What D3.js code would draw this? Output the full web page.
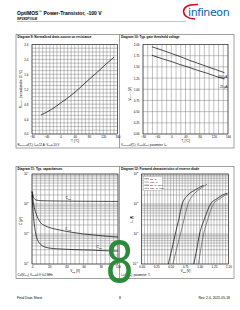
<!DOCTYPE html>
<html>
<head>
<meta charset="utf-8">
<script src="https://cdn.jsdelivr.net/npm/d3@7"></script>
<style>
  body { margin: 0; background: #fff; }
  svg { display: block; font-family: "Liberation Sans", Arial, sans-serif; }
</style>
</head>
<body>
<svg width="240" height="310"></svg>
<script>
// ---- data ----
var rdsTemp = [-55, -25, 0, 25, 50, 75, 100, 125, 150];
var rdsNorm = [0.51, 0.66, 0.83, 1.0, 1.2, 1.42, 1.63, 1.85, 2.06];

var vthTemp = [-55, -25, 0, 25, 50, 75, 100, 125, 150];
var vthHigh = [1.95, 1.87, 1.80, 1.73, 1.65, 1.58, 1.51, 1.44, 1.37];
var vthLow = [1.76, 1.68, 1.62, 1.55, 1.49, 1.42, 1.36, 1.29, 1.23];
var vthNames = ["250 µA", "25 µA"];

var capV = [0, 1, 2, 5, 10, 15, 20, 30, 40, 50, 60, 70, 80, 90, 100];
var ciss = [2700, 2000, 1600, 1350, 1290, 1275, 1265, 1255, 1248, 1242, 1236, 1231, 1227, 1223, 1220];
var coss = [2500, 1500, 950, 460, 240, 190, 165, 140, 122, 110, 100, 94, 88, 83, 79];
var crss = [2000, 700, 320, 85, 45, 37, 34, 32, 31, 30, 29.5, 29, 28, 27.5, 27];
var capNames = ["C_{iss}", "C_{oss}", "C_{rss}"];

var diodeI = [0.1, 0.3, 1, 3, 10, 20, 30, 42];
var diodeA = [0.46, 0.52, 0.58, 0.64, 0.70, 0.80, 0.93, 1.07];
var diodeI2 = [0.1, 0.3, 1, 3, 10, 20, 30, 46];
var diodeB = [0.54, 0.60, 0.67, 0.73, 0.80, 0.89, 0.99, 1.13];
var diodeI3 = [0.1, 0.3, 1, 3, 10, 15, 20, 23];
var diodeC = [0.90, 0.95, 1.00, 1.08, 1.19, 1.30, 1.40, 1.48];
var diodeI4 = [0.1, 0.3, 1, 3, 10, 15, 20, 22];
var diodeD = [0.98, 1.02, 1.07, 1.14, 1.24, 1.35, 1.45, 1.50];
var diodeNames = ["25 °C", "150 °C", "25 °C, 98%", "150 °C, 98%"];

var svg = d3.select("svg");
svg.append("rect").attr("width", 240).attr("height", 310).attr("fill", "#fff");

// text with _{sub} and ^{sup} parts
function rich(sel, str, fs) {
  var parts = str.split(/([_^]\{[^}]*\})/);
  var off = 0;
  parts.forEach(function (p) {
    if (!p) return;
    var t = sel.append("tspan"), d = 0;
    if (p.indexOf("_{") === 0) { d = 0.3; p = p.slice(2, -1); t.attr("font-size", fs * 0.75); }
    else if (p.indexOf("^{") === 0) { d = -0.4; p = p.slice(2, -1); t.attr("font-size", fs * 0.75); }
    t.attr("dy", ((d - off) * fs).toFixed(2)).text(p);
    off = d;
  });
}

function label(x, y, str, fs, opts) {
  opts = opts || {};
  var t = svg.append("text")
      .attr("x", x).attr("y", y)
      .attr("font-size", fs)
      .attr("fill", opts.fill || "#000")
      .attr("text-anchor", opts.anchor || "start")
      .attr("font-weight", opts.bold ? "bold" : null);
  if (opts.rotate) t.attr("transform", "rotate(-90," + x + "," + y + ")");
  rich(t, str, fs);
  return t;
}

function logLabels(ax) {
  ax.selectAll(".tick text").each(function (d) {
    var e = Math.round(Math.log10(d));
    d3.select(this).text(null);
    rich(d3.select(this), "10^{" + e + "}", 3);
  });
}

// one chart: grid, frame, axes and curves
function chart(o) {
  var x = o.x, y = o.y;
  var xl = x.range()[0], xr = x.range()[1], yb = y.range()[0], yt = y.range()[1];
  var g = svg.append("g");

  g.append("g").selectAll("line").data(o.xGrid).join("line")
      .attr("x1", function (d) { return x(d); }).attr("x2", function (d) { return x(d); })
      .attr("y1", yt).attr("y2", yb)
      .attr("stroke", "#777").attr("stroke-width", 0.45);
  g.append("g").selectAll("line").data(o.yGrid).join("line")
      .attr("y1", function (d) { return y(d); }).attr("y2", function (d) { return y(d); })
      .attr("x1", xl).attr("x2", xr)
      .attr("stroke", "#777").attr("stroke-width", 0.45);

  g.append("rect").attr("x", xl).attr("y", yt)
      .attr("width", xr - xl).attr("height", yb - yt)
      .attr("fill", "none").attr("stroke", "#000").attr("stroke-width", 0.5);

  var ax = g.append("g").attr("transform", "translate(0," + yb + ")")
      .call(d3.axisBottom(x).tickValues(o.xTicks).tickSize(0).tickPadding(1.5).tickFormat(o.xFormat));
  var ay = g.append("g").attr("transform", "translate(" + xl + ",0)")
      .call(d3.axisLeft(y).tickValues(o.yTicks).tickSize(0).tickPadding(3.5)
        .tickFormat(o.yFormat || function (d) { return "10"; }));
  [ax, ay].forEach(function (a) {
    a.attr("font-size", 3).attr("font-family", null);
    a.select(".domain").remove();
  });
  if (o.logY) logLabels(ay);

  var line = d3.line()
      .x(function (d) { return x(d[0]); })
      .y(function (d) { return y(d[1]); })
      .curve(d3.curveMonotoneX);
  o.series.forEach(function (s) {
    g.append("path").attr("d", line(s.pts))
        .attr("fill", "none").attr("stroke", s.color || "#000").attr("stroke-width", 0.7);
  });
  return g;
}

function zip(a, b) { return a.map(function (v, i) { return [v, b[i]]; }); }

// ---- header ----
label(17, 15, "OptiMOS^{™} Power-Transistor, -100 V", 5, { bold: true });
label(17, 20, "ISP28DP10LM", 3, { bold: true });
svg.append("line").attr("x1", 17).attr("x2", 186).attr("y1", 21.5).attr("y2", 21.5)
    .attr("stroke", "#666").attr("stroke-width", 0.4);
svg.append("path").attr("d", "M198,4.5 Q184,4 183.5,11.5 Q184,18.5 195,19")
    .attr("fill", "none").attr("stroke", "#e2001a").attr("stroke-width", 1.6);
svg.append("text").attr("x", 188).attr("y", 15.5).attr("font-size", 11)
    .attr("font-family", "'DejaVu Sans', sans-serif").attr("fill", "#0a60ac")
    .attr("letter-spacing", -0.4).text("infineon");

// ---- frames ----
[[34.5, 148], [166.5, 278.5]].forEach(function (r) {
  svg.append("rect").attr("x", 16).attr("y", r[0]).attr("width", 218).attr("height", r[1] - r[0])
      .attr("fill", "none").attr("stroke", "#444").attr("stroke-width", 0.5);
  svg.append("line").attr("x1", 119.5).attr("x2", 119.5).attr("y1", r[0]).attr("y2", r[1])
      .attr("stroke", "#444").attr("stroke-width", 0.5);
});

label(17.5, 38.3, "Diagram 9: Normalized drain-source on resistance", 3.1, { bold: true });
label(121, 38.3, "Diagram 10: Typ. gate threshold voltage", 3.1, { bold: true });
label(17.5, 170.3, "Diagram 11: Typ. capacitances", 3.1, { bold: true });
label(121, 170.3, "Diagram 12: Forward characteristics of reverse diode", 3.1, { bold: true });

// ---- diagram 9 ----
var x9 = d3.scaleLinear().domain([-80, 160]).range([32, 117.5]);
var y9 = d3.scaleLinear().domain([0, 2.4]).range([134, 44.5]);
chart({
  x: x9, y: y9,
  xGrid: d3.range(-80, 161, 10), yGrid: d3.range(0, 2.41, 0.1),
  xTicks: d3.range(-80, 161, 40), yTicks: d3.range(0, 2.41, 0.4),
  xFormat: d3.format("d"), yFormat: d3.format(".1f"),
  series: [{ pts: zip(rdsTemp, rdsNorm) }]
});
label(75, 141.6, "T_{j} [°C]", 3, { anchor: "middle" });
label(21.5, 89, "R_{DS(on)} (normalized to 25 °C)", 3, { anchor: "middle", rotate: true });
label(17.5, 145.6, "R_{DS(on)}=f(T_{j}); I_{D}=-12 A; V_{GS}=-10 V", 2.8);

// ---- diagram 10 ----
var x10 = d3.scaleLinear().domain([-80, 160]).range([143, 228]);
var y10 = d3.scaleLinear().domain([0, 2]).range([134, 44.5]);
chart({
  x: x10, y: y10,
  xGrid: d3.range(0, 19).map(function (i) { return -80 + i * 40 / 3; }),
  yGrid: d3.range(0, 2.01, 0.25),
  xTicks: d3.range(-80, 161, 40), yTicks: d3.range(0, 2.01, 0.25),
  xFormat: d3.format("d"), yFormat: d3.format(".2f"),
  series: [{ pts: zip(vthTemp, vthHigh) }, { pts: zip(vthTemp, vthLow) }]
});
label(227, 77.6, vthNames[0], 2.8, { anchor: "end" });
label(227.5, 87.5, vthNames[1], 2.8, { anchor: "end" });
label(185.5, 141.6, "T_{j} [°C]", 3, { anchor: "middle" });
label(130.5, 94, "V_{GS(th)} [V]", 3, { anchor: "middle", rotate: true });
label(121, 145.6, "V_{GS(th)}=f(T_{j}); V_{GS}=V_{DS}; parameter: I_{D}", 2.8);

// ---- diagram 11 ----
var x11 = d3.scaleLinear().domain([0, 100]).range([32, 118]);
var y11 = d3.scaleLog().domain([10, 1e4]).range([264, 174]);
chart({
  x: x11, y: y11, logY: true,
  xGrid: d3.range(0, 101, 5), yGrid: y11.ticks(),
  xTicks: d3.range(0, 101, 20), yTicks: [10, 100, 1000, 10000],
  xFormat: d3.format("d"),
  series: [{ pts: zip(capV, ciss) }, { pts: zip(capV, coss) }, { pts: zip(capV, crss) }]
});
label(x11(42), y11(1420), capNames[0], 3, { anchor: "middle" });
label(x11(42), y11(140), capNames[1], 3, { anchor: "middle" });
label(x11(78), y11(35), capNames[2], 3, { anchor: "middle" });
label(75, 271.6, "V_{DS} [V]", 3, { anchor: "middle" });
label(22, 221, "C [pF]", 3, { anchor: "middle", rotate: true });
label(17.5, 275.6, "C=f(V_{DS}); V_{GS}=0 V; f=1 MHz", 2.8);

// ---- diagram 12 ----
var x12 = d3.scaleLinear().domain([0, 1.5]).range([141.7, 228.5]);
var y12 = d3.scaleLog().domain([0.1, 100]).range([264, 174]);
chart({
  x: x12, y: y12, logY: true,
  xGrid: d3.range(0, 1.501, 0.05), yGrid: y12.ticks(),
  xTicks: d3.range(0, 1.501, 0.25), yTicks: [0.1, 1, 10, 100],
  xFormat: d3.format(".2f"),
  series: [
    { pts: zip(diodeA, diodeI) },
    { pts: zip(diodeB, diodeI2), color: "#555" },
    { pts: zip(diodeC, diodeI3) },
    { pts: zip(diodeD, diodeI4), color: "#555" }
  ]
});
var leg = svg.append("g");
leg.append("rect").attr("x", 143.3).attr("y", 176.3).attr("width", 19).attr("height", 14)
    .attr("fill", "#fff").attr("stroke", "#777").attr("stroke-width", 0.3);
diodeNames.forEach(function (n, i) {
  var yy = 178.8 + i * 3.2;
  leg.append("line").attr("x1", 144.3).attr("x2", 149).attr("y1", yy).attr("y2", yy)
      .attr("stroke", i % 2 ? "#555" : "#000").attr("stroke-width", 0.5);
  label(150, yy + 0.9, n, 2.5);
});
label(185.5, 271.6, "V_{SD} [V]", 3, { anchor: "middle" });
label(132.5, 219, "I_{F} [A]", 3, { anchor: "middle", rotate: true });
label(121, 275.6, "I_{F}=f(V_{SD}); parameter: T_{j}", 2.8);

// ---- green page mark ----
svg.append("text").attr("transform", "translate(119.5,283) scale(0.8,1)")
    .attr("font-size", 57).attr("font-family", "'DejaVu Sans', sans-serif")
    .attr("text-anchor", "middle").attr("fill", "#2a8c3a").text("8");

// ---- footer ----
label(17, 299, "Final Data Sheet", 3.4);
label(120, 299, "8", 3.4, { anchor: "middle" });
label(230, 299, "Rev. 2.0, 2021-05-18", 3.4, { anchor: "end" });
</script>
</body>
</html>
